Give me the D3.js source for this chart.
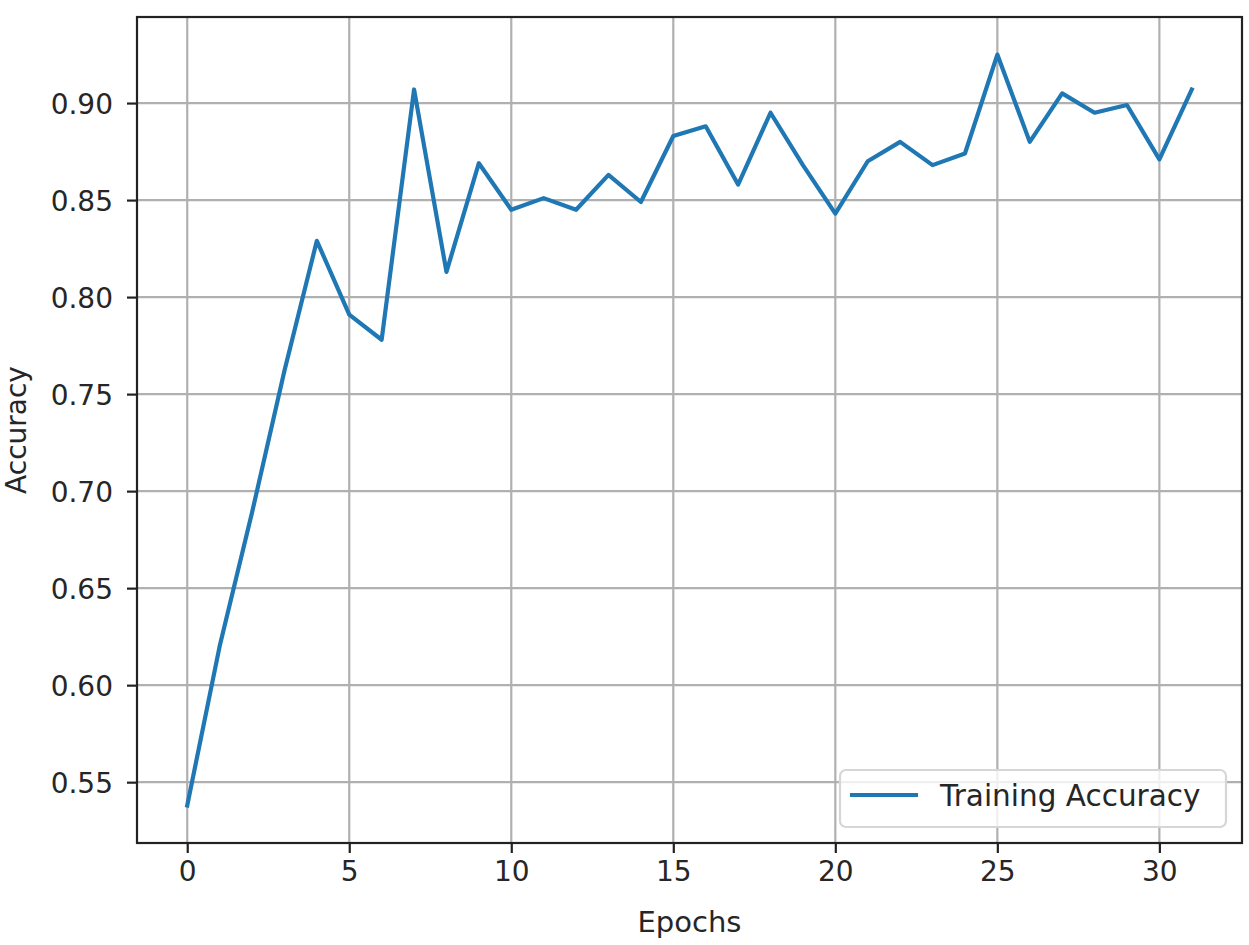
<!DOCTYPE html>
<html>
<head>
<meta charset="utf-8">
<script src="https://cdn.jsdelivr.net/npm/d3@7"></script>
<style>
  html, body { margin: 0; padding: 0; background: #fff; }
  svg { display: block; font-family: "DejaVu Sans", sans-serif; }
</style>
</head>
<body>
<svg id="chart" width="1249" height="945"></svg>
<script>
const epochs = d3.range(0, 32);
const trainingAccuracy = [
  0.538, 0.620, 0.689, 0.762, 0.829, 0.791, 0.778, 0.907, 0.813, 0.869,
  0.845, 0.851, 0.845, 0.863, 0.849, 0.883, 0.888, 0.858, 0.895, 0.868,
  0.843, 0.870, 0.880, 0.868, 0.874, 0.925, 0.880, 0.905, 0.895, 0.899,
  0.871, 0.907
];
const xTicks = [0, 5, 10, 15, 20, 25, 30];
const yTicks = [0.55, 0.60, 0.65, 0.70, 0.75, 0.80, 0.85, 0.90];
const seriesName = "Training Accuracy";
const xTitle = "Epochs";
const yTitle = "Accuracy";

const svg = d3.select("#chart");
const L = 137, T = 17, R = 1242, B = 843;

const xPad = (d3.max(epochs) - d3.min(epochs)) * 0.05;
const yMin = d3.min(trainingAccuracy), yMax = d3.max(trainingAccuracy);
const yPad = (yMax - yMin) * 0.05;

const x = d3.scaleLinear().domain([d3.min(epochs) - xPad, d3.max(epochs) + xPad]).range([L, R]);
const y = d3.scaleLinear().domain([yMin - yPad, yMax + yPad]).range([B, T]);

const gridColor = "#b0b0b0";
const textColor = "#262626";

// grid
const grid = svg.append("g");
grid.selectAll(".gx").data(xTicks).enter().append("line")
  .attr("x1", d => x(d)).attr("x2", d => x(d))
  .attr("y1", T).attr("y2", B)
  .attr("stroke", gridColor).attr("stroke-width", 2.2);
grid.selectAll(".gy").data(yTicks).enter().append("line")
  .attr("x1", L).attr("x2", R)
  .attr("y1", d => y(d)).attr("y2", d => y(d))
  .attr("stroke", gridColor).attr("stroke-width", 2.2);

// line
const line = d3.line().x((d, i) => x(epochs[i])).y(d => y(d));
svg.append("path").datum(trainingAccuracy)
  .attr("d", line)
  .attr("fill", "none")
  .attr("stroke", "#1f77b4")
  .attr("stroke-width", 4.2)
  .attr("stroke-linejoin", "round")
  .attr("stroke-linecap", "square");

// axes
const xAxis = d3.axisBottom(x).tickValues(xTicks).tickFormat(d3.format("d")).tickSize(10).tickPadding(8);
const yAxis = d3.axisLeft(y).tickValues(yTicks).tickFormat(d3.format(".2f")).tickSize(10).tickPadding(14);

const gx = svg.append("g").attr("transform", `translate(0,${B})`).call(xAxis);
const gy = svg.append("g").attr("transform", `translate(${L},0)`).call(yAxis);
[gx, gy].forEach(g => {
  g.select(".domain").remove();
  g.selectAll(".tick line").attr("stroke", "#222").attr("stroke-width", 2.2);
  g.selectAll(".tick text").attr("fill", textColor).style("font-size", "28px")
    .style("font-family", "DejaVu Sans, sans-serif");
});
gy.selectAll(".tick text").attr("dy", "0.36em");
gx.selectAll(".tick text").attr("dy", "0.71em");

// frame
svg.append("rect").attr("x", L).attr("y", T).attr("width", R - L).attr("height", B - T)
  .attr("fill", "none").attr("stroke", "#222").attr("stroke-width", 2.2);

// titles
svg.append("text").attr("x", (L + R) / 2).attr("y", 932)
  .attr("text-anchor", "middle").attr("fill", textColor)
  .style("font-size", "29px").text(xTitle);
svg.append("text").attr("transform", `translate(26,${(T + B) / 2}) rotate(-90)`)
  .attr("text-anchor", "middle").attr("fill", textColor)
  .style("font-size", "28px").text(yTitle);

// legend
const lg = svg.append("g");
const lw = 386, lh = 57;
const lx = R - 16 - lw, ly = B - 16 - lh;
lg.append("rect").attr("x", lx).attr("y", ly).attr("width", lw).attr("height", lh)
  .attr("rx", 6).attr("fill", "#fff").attr("fill-opacity", 0.8)
  .attr("stroke", "#d6d6d6").attr("stroke-width", 2.2);
lg.append("line").attr("x1", lx + 10).attr("x2", lx + 78)
  .attr("y1", ly + 25).attr("y2", ly + 25)
  .attr("stroke", "#1f77b4").attr("stroke-width", 4.2);
lg.append("text").attr("x", lx + 100).attr("y", ly + 36)
  .attr("fill", textColor).style("font-size", "29.5px").text(seriesName);
</script>
</body>
</html>
